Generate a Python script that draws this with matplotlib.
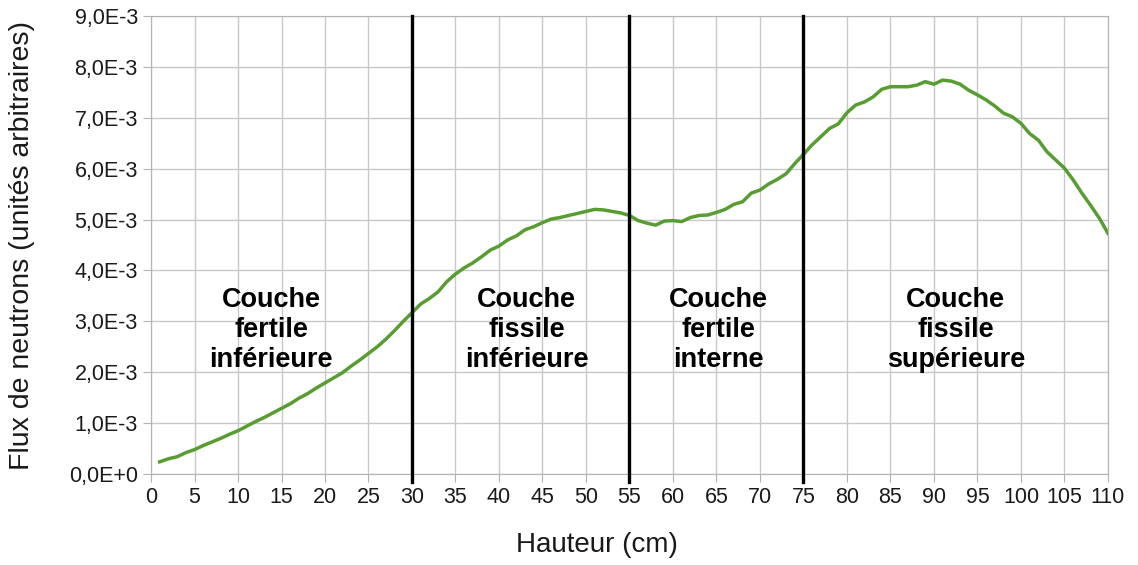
import numpy as np
import matplotlib.pyplot as plt
from matplotlib.ticker import FuncFormatter, MultipleLocator

plt.rcParams['font.family'] = ['Liberation Sans', 'DejaVu Sans']

# hauteur (cm) et flux mesuré (x1e-3, unités arbitraires)
hauteur = np.arange(1, 111)
flux_e3 = [
    0.24, 0.30, 0.34, 0.42, 0.48, 0.56, 0.63, 0.70, 0.78, 0.85,
    0.94, 1.03, 1.11, 1.20, 1.29, 1.38, 1.49, 1.58, 1.69, 1.79,
    1.89, 1.99, 2.12, 2.24, 2.37, 2.50, 2.65, 2.82, 3.00, 3.17,
    3.34, 3.45, 3.58, 3.78, 3.93, 4.05, 4.15, 4.27, 4.40, 4.48,
    4.60, 4.68, 4.80, 4.86, 4.94, 5.01, 5.04, 5.08, 5.12, 5.16,
    5.20, 5.19, 5.16, 5.13, 5.08, 4.98, 4.93, 4.89, 4.97, 4.98,
    4.96, 5.04, 5.08, 5.09, 5.14, 5.20, 5.30, 5.35, 5.52, 5.58,
    5.70, 5.79, 5.90, 6.10, 6.28, 6.47, 6.63, 6.79, 6.88, 7.10,
    7.25, 7.31, 7.41, 7.56, 7.61, 7.61, 7.61, 7.64, 7.71, 7.66,
    7.74, 7.72, 7.66, 7.54, 7.45, 7.35, 7.23, 7.09, 7.02, 6.89,
    6.69, 6.56, 6.33, 6.17, 6.01, 5.78, 5.52, 5.28, 5.03, 4.73,
]
flux = np.array(flux_e3) * 1e-3

limites = [30, 55, 75]
couches = ["Couche\nfertile\ninférieure", "Couche\nfissile\ninférieure",
           "Couche\nfertile\ninterne", "Couche\nfissile\nsupérieure"]
couches_x = [13.8, 43.2, 65.2, 92.5]

fig = plt.figure(figsize=(11.38, 5.65), dpi=100)
ax = fig.add_axes([0.1327, 0.161, 0.8409, 0.8107])

ax.plot(hauteur, flux, color="#579d32", lw=2.5, zorder=3)

for x in limites:
    ax.axvline(x, ymin=-0.017, ymax=1, color="black", lw=2.4, clip_on=False, zorder=4)

for txt, x in zip(couches, couches_x):
    ax.text(x, 2.83e-3, txt, ha="center", va="center", fontsize=19.5,
            fontweight="bold", linespacing=1.18, zorder=5)

ax.set_xlim(0, 110)
ax.set_ylim(0, 9e-3)
ax.xaxis.set_major_locator(MultipleLocator(5))
ax.yaxis.set_major_locator(MultipleLocator(1e-3))

def sci_fr(v, pos):
    if abs(v) < 1e-12:
        return "0,0E+0"
    return f"{v * 1e3:.1f}".replace(".", ",") + "E-3"

ax.yaxis.set_major_formatter(FuncFormatter(sci_fr))
ax.grid(True, color="#c8c8c8", lw=1)
ax.set_axisbelow(True)
for s in ax.spines.values():
    s.set_color("#b3b3b3")
ax.tick_params(colors="#b3b3b3", labelcolor="#1a1a1a", labelsize=15.5, length=6)

ax.set_xlabel("Hauteur (cm)", fontsize=20, color="#1a1a1a", va="center")
ax.xaxis.set_label_coords(0.466, -0.155)
ax.set_ylabel("Flux de neutrons (unités arbitraires)", fontsize=20.5, color="#1a1a1a", va="center")
ax.yaxis.set_label_coords(-0.1348, 0.5)

fig.savefig("out.png", dpi=100)
